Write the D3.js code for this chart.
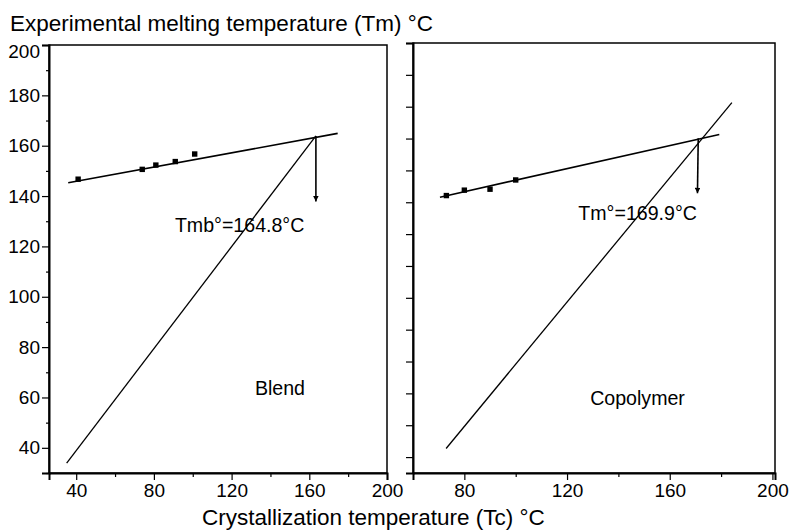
<!DOCTYPE html>
<html>
<head>
<meta charset="utf-8">
<script src="https://cdn.jsdelivr.net/npm/d3@7"></script>
<style>
    body { margin: 0; background: white; }
    svg text { font-family: "Liberation Sans", Arial, sans-serif; fill: black; }
</style>
</head>
<body>
<div id="chart"></div>
<script>
'use strict';

// values (Tc, Tm in degC)
var blendTc = [41, 74, 81, 91, 101];
var blendTm = [146.7, 150.6, 152.3, 153.7, 156.7];
var copoTc = [73, 80, 90, 100];
var copoTm = [152.1, 153.8, 154.1, 157.0];

// fitted Tm line, Tm = Tc line and arrow down from the crossing
var blendFit = [[35.9, 145.3], [174.6, 164.9]];
var blendDiag = [[35.1, 33.9], [163.4, 163.9]];
var blendArrow = [[163.4, 163.9], [163.4, 137.8]];
var copoFit = [[70.5, 151.6], [179.3, 171.3]];
var copoDiag = [[72.9, 72.7], [184.2, 181.3]];
var copoArrow = [[171.1, 170.1], [170.8, 152.8]];

var blendXTicks = [40, 80, 120, 160, 200];
var blendXMinor = [60, 100, 140, 180];
var copoXTicks = [80, 120, 160, 200];
var copoXMinor = [100, 140, 180];
var blendYTicks = [40, 60, 80, 100, 120, 140, 160, 180, 200];
var blendYMinor = [30, 50, 70, 90, 110, 130, 150, 170, 190];
var copoYTicks = [70, 80, 90, 100, 110, 120, 130, 140, 150, 160, 170, 180, 190, 200];

var panelNames = ["Blend", "Copolymer"];
var tmLabels = ["Tmb°=164.8°C", "Tm°=169.9°C"];
var namePos = [[132, 61], [129, 86.3]];
var tmLabelPos = [[90.8, 125.9], [124.4, 144.4]];

var yTitle = "Experimental melting temperature (Tm) °C";
var xTitle = "Crystallization temperature (Tc) °C";

var width = 792, height = 531;
var tickFont = "19px", noteFont = "19.6px", titleFont = "22.5px";

var svg = d3.select("#chart").append("svg")
    .attr("width", width).attr("height", height);

svg.append("rect")
    .attr("x", 0).attr("y", 0)
    .attr("width", width).attr("height", height)
    .attr("fill", "white");

var panels = [{
    x: d3.scaleLinear().domain([26, 200]).range([49, 387]),
    y: d3.scaleLinear().domain([30, 200]).range([473, 45]),
    tc: blendTc, tm: blendTm, fit: blendFit, diag: blendDiag, arrow: blendArrow,
    xTicks: blendXTicks, xMinor: blendXMinor, labels: true
}, {
    x: d3.scaleLinear().domain([60, 201]).range([413, 775]),
    y: d3.scaleLinear().domain([65, 200]).range([473, 43]),
    tc: copoTc, tm: copoTm, fit: copoFit, diag: copoDiag, arrow: copoArrow,
    xTicks: copoXTicks, xMinor: copoXMinor, labels: false
}];

// arrow head
svg.append("defs").append("marker")
    .attr("id", "head")
    .attr("markerUnits", "userSpaceOnUse")
    .attr("viewBox", "0 0 10 10")
    .attr("refX", 10).attr("refY", 5)
    .attr("markerWidth", 9).attr("markerHeight", 5.5)
    .attr("orient", "auto")
    .append("path")
    .attr("d", "M0,0L10,5L0,10Z")
    .attr("fill", "black");

panels.forEach(function(p, i) {
    var g = svg.append("g");
    var x = p.x, y = p.y;
    var x0 = x.range()[0], x1 = x.range()[1];
    var y0 = y.range()[0], y1 = y.range()[1];

    // frame
    g.append("rect")
        .attr("x", x0).attr("y", y1)
        .attr("width", x1 - x0).attr("height", y0 - y1)
        .attr("fill", "none").attr("stroke", "black").attr("stroke-width", 1.5);

    // bottom axis, labelled ticks every 40 and short ones between
    var xAxis = g.append("g")
        .attr("transform", "translate(0," + y0 + ")")
        .call(d3.axisBottom(x).tickValues(p.xTicks).tickSize(7).tickPadding(4));
    xAxis.select(".domain").attr("stroke-width", 2);
    xAxis.selectAll("text").attr("font-size", tickFont).attr("font-family", null);
    g.append("g")
        .attr("transform", "translate(0," + y0 + ")")
        .call(d3.axisBottom(x).tickValues(p.xMinor).tickSize(4).tickFormat(""))
        .select(".domain").remove();

    // left axis
    var yAxis = g.append("g")
        .attr("transform", "translate(" + x0 + ",0)");
    if (p.labels) {
        yAxis.call(d3.axisLeft(y).tickValues(blendYTicks).tickSize(7).tickPadding(2));
        g.append("g")
            .attr("transform", "translate(" + x0 + ",0)")
            .call(d3.axisLeft(y).tickValues(blendYMinor).tickSize(3).tickFormat(""))
            .select(".domain").remove();
        // top label sits a little low in the original
        yAxis.selectAll(".tick text").filter(function(d) { return d === 200; })
            .attr("dy", "0.65em");
    } else {
        yAxis.call(d3.axisLeft(y).tickValues(copoYTicks).tickSize(7).tickFormat(""));
    }
    yAxis.select(".domain").attr("stroke-width", 2);
    yAxis.selectAll("text").attr("font-size", tickFont).attr("font-family", null);
    g.selectAll(".tick line").attr("stroke", "black").attr("stroke-width", 1.2);
    g.selectAll(".domain").attr("stroke", "black");

    var line = d3.line()
        .x(function(d) { return x(d[0]); })
        .y(function(d) { return y(d[1]); });

    g.append("path")
        .attr("d", line(p.diag))
        .attr("fill", "none").attr("stroke", "black").attr("stroke-width", 1.3);

    g.append("path")
        .attr("d", line(p.fit))
        .attr("fill", "none").attr("stroke", "black").attr("stroke-width", 1.6);

    g.append("path")
        .attr("d", line(p.arrow))
        .attr("fill", "none").attr("stroke", "black").attr("stroke-width", 1.6)
        .attr("marker-end", "url(#head)");

    g.selectAll("rect.pt")
        .data(p.tc)
        .enter().append("rect")
        .attr("class", "pt")
        .attr("x", function(d) { return x(d) - 2.7; })
        .attr("y", function(d, j) { return y(p.tm[j]) - 2.7; })
        .attr("width", 5.4).attr("height", 5.4)
        .attr("fill", "black");

    g.append("text")
        .text(tmLabels[i])
        .attr("x", x(tmLabelPos[i][0])).attr("y", y(tmLabelPos[i][1]))
        .attr("font-size", noteFont);

    g.append("text")
        .text(panelNames[i])
        .attr("x", x(namePos[i][0])).attr("y", y(namePos[i][1]))
        .attr("font-size", noteFont);
});

svg.append("text")
    .text(yTitle)
    .attr("x", 10).attr("y", 31)
    .attr("font-size", titleFont);

svg.append("text")
    .text(xTitle)
    .attr("x", 202).attr("y", 525)
    .attr("font-size", titleFont);
</script>
</body>
</html>
